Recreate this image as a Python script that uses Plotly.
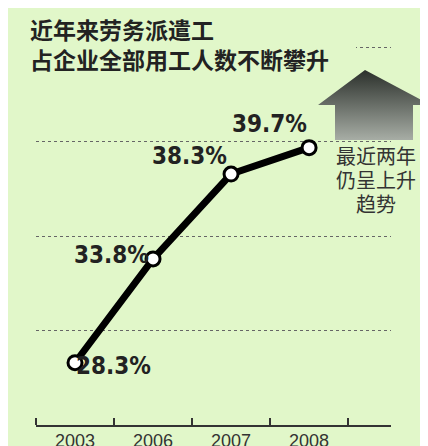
import plotly.graph_objects as go

years = ["2003", "2006", "2007", "2008"]
share = [28.3, 33.8, 38.3, 39.7]
labels = ["28.3%", "33.8%", "38.3%", "39.7%"]
note_lines = ["最近两年", "仍呈上升", "趋势"]

bg = "#e1f7c9"
W, H = 428, 446
xs = list(range(len(years)))

fig = go.Figure()

fig.add_trace(go.Scatter(
    x=xs, y=share, mode="lines+markers",
    line=dict(color="black", width=7),
    marker=dict(size=14, color="white", line=dict(color="black", width=3)),
    hoverinfo="skip", showlegend=False,
))

# arrow drawn on a full-page pixel axis pair
ax = [357, 423, 405, 405, 327, 327, 310, 357]
ay = [62, 97, 97, 132, 132, 97, 97, 62]
fig.add_trace(go.Scatter(
    x=ax, y=ay, xaxis="x2", yaxis="y2", mode="lines", fill="toself",
    line=dict(width=0),
    fillgradient=dict(type="vertical",
                      colorscale=[[0, "#a7ada5"], [1, "#2b302b"]]),
    hoverinfo="skip", showlegend=False,
))

# label offsets (px)
offs = [(38, -3), (-42, 4), (-42, 18), (-40, 24)]
for x, y, t, (dx, dy) in zip(xs, share, labels, offs):
    fig.add_annotation(x=x, y=y, text="<b>" + t + "</b>", showarrow=False,
                       xshift=dx, yshift=dy,
                       font=dict(family="Liberation Sans Narrow, DejaVu Sans Condensed",
                                 size=24, color="#222"))

for i, line in enumerate(note_lines):
    fig.add_annotation(x=368, y=147 + 24 * i, xref="x2", yref="y2", text=line,
                       showarrow=False,
                       font=dict(family="Noto Sans CJK SC", size=20, color="#333"))

# hide left part of top gridline behind the title
fig.add_shape(type="rect", xref="x2", yref="y2", x0=0, x1=348, y0=30, y1=50,
              fillcolor=bg, line=dict(width=0), layer="above")
fig.add_annotation(x=20, y=36, xref="x2", yref="y2", xanchor="left",
                   text="<b>近年来劳务派遣工<br>占企业全部用工人数不断攀升</b>",
                   showarrow=False, align="left",
                   font=dict(family="Noto Sans CJK SC", size=23, color="#222"))

fig.update_layout(
    width=W, height=H,
    margin=dict(l=0, r=0, t=0, b=0),
    paper_bgcolor=bg, plot_bgcolor="rgba(0,0,0,0)",
    xaxis=dict(domain=[28 / W, 383 / W], range=[-0.5, 4.05], tickvals=xs,
               ticktext=years, ticks="", ticklabelstandoff=-2,
               showline=True, linecolor="#333", linewidth=2, showgrid=False,
               zeroline=False,
               tickfont=dict(family="Liberation Sans, Arial", size=18, color="#333"),
               minor=dict(tickvals=[-0.5, 0.5, 1.5, 2.5, 3.5], ticks="inside",
                          ticklen=7, tickwidth=2, tickcolor="#333"),
               fixedrange=True),
    yaxis=dict(domain=[29 / H, 1], range=[25, 47.1], tickvals=[30, 35, 40, 45],
               showticklabels=False, showgrid=True, gridcolor="#666",
               griddash="dot", gridwidth=1, zeroline=False, fixedrange=True),
    xaxis2=dict(domain=[0, 1], anchor="y2", range=[0, W], visible=False,
                fixedrange=True),
    yaxis2=dict(domain=[0, 1], anchor="x2", range=[H, 0], visible=False,
                fixedrange=True),
)

fig.write_html("out.html")
